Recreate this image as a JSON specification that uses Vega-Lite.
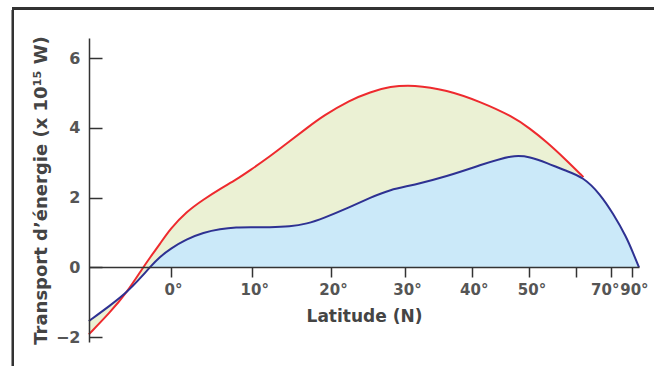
{
  "$schema": "https://vega.github.io/schema/vega-lite/v6.json",
  "width": 550,
  "height": 304,
  "autosize": {"type": "none"},
  "padding": {"left": 89, "top": 38, "right": 15, "bottom": 24},
  "background": "white",
  "config": {"view": {"stroke": null}},
  "data": {"values": [
    {"lat": -10.1, "rouge": -1.92, "bleu": -1.54},
    {"lat": -7.5, "rouge": -1.3, "bleu": -1.1},
    {"lat": -5.4, "rouge": -0.72, "bleu": -0.72},
    {"lat": -3.4, "rouge": 0.0, "bleu": -0.22},
    {"lat": -2.6, "rouge": 0.27, "bleu": 0.0},
    {"lat": -1.35, "rouge": 0.67, "bleu": 0.3},
    {"lat": -0.1, "rouge": 1.1, "bleu": 0.53},
    {"lat": 1.9, "rouge": 1.6, "bleu": 0.81},
    {"lat": 4.0, "rouge": 1.95, "bleu": 1.0},
    {"lat": 6.0, "rouge": 2.25, "bleu": 1.1},
    {"lat": 8.1, "rouge": 2.53, "bleu": 1.15},
    {"lat": 9.7, "rouge": 2.78, "bleu": 1.15},
    {"lat": 12.2, "rouge": 3.18, "bleu": 1.15},
    {"lat": 14.7, "rouge": 3.62, "bleu": 1.17},
    {"lat": 16.9, "rouge": 4.0, "bleu": 1.25},
    {"lat": 19.0, "rouge": 4.35, "bleu": 1.41},
    {"lat": 22.5, "rouge": 4.8, "bleu": 1.73},
    {"lat": 25.2, "rouge": 5.03, "bleu": 2.0},
    {"lat": 27.9, "rouge": 5.19, "bleu": 2.23},
    {"lat": 31.2, "rouge": 5.24, "bleu": 2.36},
    {"lat": 36.1, "rouge": 5.09, "bleu": 2.61},
    {"lat": 41.3, "rouge": 4.76, "bleu": 2.93},
    {"lat": 47.0, "rouge": 4.32, "bleu": 3.24},
    {"lat": 50.1, "rouge": 3.98, "bleu": 3.17},
    {"lat": 53.4, "rouge": 3.6, "bleu": 3.0},
    {"lat": 57.3, "rouge": 3.12, "bleu": 2.78},
    {"lat": 61.8, "rouge": 2.59, "bleu": 2.59},
    {"lat": 66.4, "rouge": null, "bleu": 2.11},
    {"lat": 70.9, "rouge": null, "bleu": 1.54},
    {"lat": 76.8, "rouge": null, "bleu": 0.86},
    {"lat": 80.8, "rouge": null, "bleu": 0.42},
    {"lat": 90.0, "rouge": null, "bleu": 0.0}
  ]},
  "transform": [{"calculate": "sin(datum.lat * PI / 180)", "as": "s"}],
  "encoding": {
    "x": {
      "field": "s", "type": "quantitative",
      "scale": {"domain": [-0.175, 1], "nice": false, "zero": false},
      "axis": {
        "title": "Latitude (N)",
        "offset": -75,
        "zindex": 1,
        "values": [0, 0.173648, 0.34202, 0.5, 0.642788, 0.766044, 0.866025, 0.939693, 0.984808],
        "labelExpr": "datum.value > 0.98 ? '90°' : (datum.value > 0.86 && datum.value < 0.87 ? '' : round(asin(datum.value) * 180 / PI) + '°')",
        "labelOverlap": false,
        "labelFlush": false,
        "labelOffset": {"condition": {"test": "datum.value > 0.93 && datum.value < 0.95", "value": -6}, "value": 2},
        "domainColor": "#333333",
        "domainWidth": 1.5,
        "tickColor": "#333333",
        "tickWidth": 1.5,
        "tickSize": 10,
        "labelPadding": 5,
        "labelFont": "DejaVu Sans",
        "labelFontSize": 15,
        "labelFontWeight": "bold",
        "labelColor": "#555555",
        "titleFont": "DejaVu Sans",
        "titleFontSize": 17,
        "titleFontWeight": "bold",
        "titleColor": "#444444",
        "titlePadding": 11,
        "grid": false
      }
    }
  },
  "layer": [
    {
      "mark": {"type": "rect", "fill": null, "stroke": "#333333", "strokeWidth": 2, "clip": false},
      "encoding": {
        "x": {"datum": -0.3374},
        "x2": {"datum": 1.1},
        "y": {"datum": 7.43},
        "y2": {"datum": -3.5}
      }
    },
    {
      "transform": [{"filter": "datum.rouge != null"}],
      "mark": {"type": "area", "interpolate": "basis", "color": "#ebf1d4"},
      "encoding": {
        "y": {"field": "rouge", "type": "quantitative"},
        "y2": {"field": "bleu"}
      }
    },
    {
      "transform": [{"filter": "datum.bleu >= 0"}],
      "mark": {"type": "area", "interpolate": "basis", "color": "#cbe9f9"},
      "encoding": {
        "y": {"field": "bleu", "type": "quantitative"},
        "y2": {"datum": 0}
      }
    },
    {
      "transform": [{"filter": "datum.rouge != null"}],
      "mark": {"type": "line", "interpolate": "basis", "color": "#ee2a2e", "strokeWidth": 2},
      "encoding": {
        "y": {"field": "rouge", "type": "quantitative"}
      }
    },
    {
      "mark": {"type": "line", "interpolate": "basis", "color": "#2e3192", "strokeWidth": 2},
      "encoding": {
        "y": {
          "field": "bleu", "type": "quantitative",
          "scale": {"domain": [-2.14, 6.58], "nice": false, "zero": false},
          "axis": {
            "title": "Transport d’énergie (x 10¹⁵ W)",
            "zindex": 1,
            "values": [-2, 0, 2, 4, 6],
            "grid": false,
            "domainColor": "#333333",
            "domainWidth": 1.5,
            "tickColor": "#333333",
            "tickWidth": 1.5,
            "tickSize": -13,
            "labelPadding": 22,
            "labelFont": "DejaVu Sans",
            "labelFontSize": 16,
            "labelFontWeight": "bold",
            "labelColor": "#555555",
            "titleFont": "DejaVu Sans",
            "titleFontSize": 18,
            "titleFontWeight": "bold",
            "titleColor": "#444444",
            "titlePadding": 5
          }
        }
      }
    }
  ],
  "resolve": {"scale": {"y": "shared"}}
}
